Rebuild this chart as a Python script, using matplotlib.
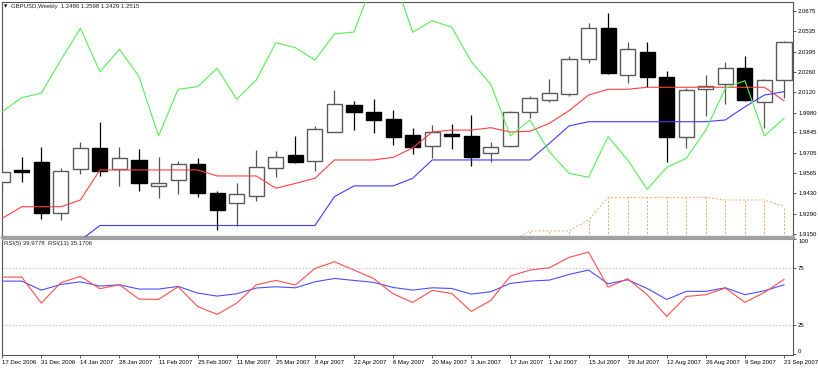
import matplotlib
matplotlib.use("Agg")
import matplotlib.pyplot as plt

# ---------------- data ----------------
tick_labels = ["17 Dec 2006", "31 Dec 2006", "14 Jan 2007", "28 Jan 2007", "11 Feb 2007",
               "25 Feb 2007", "11 Mar 2007", "25 Mar 2007", "8 Apr 2007", "22 Apr 2007",
               "6 May 2007", "20 May 2007", "3 Jun 2007", "17 Jun 2007", "1 Jul 2007",
               "15 Jul 2007", "29 Jul 2007", "12 Aug 2007", "26 Aug 2007", "9 Sep 2007",
               "23 Sep 2007"]

opens = [1.9509, 1.9589, 1.9641, 1.9293, 1.9593, 1.9737, 1.9593, 1.9655, 1.9480, 1.9518,
         1.9630, 1.9434, 1.9362, 1.9413, 1.9600, 1.9689, 1.9650, 1.9850, 2.0031, 1.9981,
         1.9935, 1.9827, 1.9754, 1.9834, 1.9821, 1.9703, 1.9754, 1.9982, 2.0066, 2.0107,
         2.0344, 2.0555, 2.0237, 2.0395, 2.0225, 1.9812, 2.0141, 2.0175, 2.0282, 2.0054,
         2.0202]
highs = [1.9748, 1.9679, 1.9748, 1.9604, 1.9778, 1.9914, 1.9748, 1.9730, 1.9679, 1.9650,
         1.9673, 1.9445, 1.9502, 1.9725, 1.9718, 1.9823, 1.9887, 2.0134, 2.0061, 2.0073,
         1.9998, 1.9873, 1.9896, 1.9899, 1.9964, 1.9782, 1.9993, 2.0091, 2.0209, 2.0366,
         2.0593, 2.0657, 2.0464, 2.0464, 2.0264, 2.0146, 2.0237, 2.0327, 2.0368, 2.0207,
         2.0468]
lows = [1.9430, 1.9510, 1.9254, 1.9248, 1.9561, 1.9550, 1.9480, 1.9447, 1.9396, 1.9423,
        1.9407, 1.9179, 1.9207, 1.9377, 1.9543, 1.9634, 1.9585, 1.9846, 1.9861, 1.9841,
        1.9759, 1.9696, 1.9670, 1.9730, 1.9616, 1.9645, 1.9748, 1.9943, 2.0054, 2.0093,
        2.0320, 2.0245, 2.0180, 2.0153, 1.9645, 1.9741, 1.9957, 2.0039, 2.0059, 1.9877,
        2.0082]
closes = [1.9577, 1.9575, 1.9293, 1.9584, 1.9737, 1.9584, 1.9668, 1.9498, 1.9498, 1.9630,
          1.9430, 1.9316, 1.9423, 1.9611, 1.9675, 1.9641, 1.9866, 2.0037, 1.9982, 1.9930,
          1.9816, 1.9745, 1.9846, 1.9821, 1.9679, 1.9748, 1.9984, 2.0083, 2.0112, 2.0346,
          2.0555, 2.0248, 2.0412, 2.0225, 1.9816, 2.0134, 2.0162, 2.0282, 2.0066, 2.0202,
          2.0460]

tenkan = [1.9259, 1.9338, 1.9338, 1.9338, 1.9384, 1.9589, 1.9589, 1.9589, 1.9589, 1.9589,
          1.9589, 1.9548, 1.9548, 1.9548, 1.9464, 1.9497, 1.9532, 1.9657, 1.9657, 1.9657,
          1.9675, 1.9739, 1.9848, 1.9861, 1.9861, 1.9877, 1.9848, 1.9853, 1.9907, 1.9993,
          2.0100, 2.0139, 2.0139, 2.0153, 2.0153, 2.0153, 2.0153, 2.0153, 2.0153, 2.0153,
          2.0061]
kijun = [1.9109, 1.9109, 1.9109, 1.9109, 1.9109, 1.9210, 1.9210, 1.9210, 1.9210, 1.9210,
         1.9210, 1.9210, 1.9210, 1.9210, 1.9210, 1.9210, 1.9210, 1.9407, 1.9480, 1.9480,
         1.9480, 1.9532, 1.9657, 1.9657, 1.9657, 1.9657, 1.9657, 1.9657, 1.9771, 1.9889,
         1.9918, 1.9918, 1.9918, 1.9918, 1.9918, 1.9918, 1.9918, 1.9930, 2.0020, 2.0100,
         2.0123]
chikou = [1.9986, 2.0082, 2.0112, 2.0339, 2.0555, 2.0259, 2.0412, 2.0225, 1.9821, 2.0139,
          2.0157, 2.0282, 2.0071, 2.0202, 2.0457, 2.0423, 2.0339, 2.0516, 2.0530, 2.0884,
          2.0925, 2.0528, 2.0607, 2.0562, 2.0327, 2.0173, 1.9821, 1.9930, 1.9713, 1.9566,
          1.9539, 1.9816, 1.9657, 1.9457, 1.9607, 1.9668, 1.9861, 2.0146, 2.0198, 1.9821,
          1.9941]
cloud_start = 26
senkou_a = [1.9098, 1.9173, 1.9173, 1.9173, 1.9248, 1.9402, 1.9402, 1.9402, 1.9402, 1.9402,
            1.9402, 1.9384, 1.9384, 1.9384, 1.9340]
senkou_b = [1.9050, 1.9050, 1.9050, 1.9050, 1.9050, 1.9050, 1.9050, 1.9050, 1.9050, 1.9050,
            1.9050, 1.9050, 1.9050, 1.9050, 1.9050]

rsi5 = [66.9, 66.9, 44.3, 62.0, 67.5, 56.8, 60.2, 47.8, 47.5, 58.5, 41.4, 34.5, 44.3, 60.2,
        64.0, 60.0, 74.4, 80.2, 73.0, 65.7, 52.4, 44.9, 55.3, 52.7, 37.1, 46.6, 67.8, 73.0,
        75.0, 84.0, 88.6, 58.2, 65.5, 51.6, 32.8, 50.1, 51.6, 57.4, 44.9, 53.6, 64.9]
rsi13 = [63.4, 63.4, 55.6, 60.5, 62.8, 59.1, 60.2, 56.5, 56.5, 58.8, 53.0, 50.4, 52.4, 57.4,
         58.5, 57.6, 62.8, 65.7, 64.0, 62.3, 57.9, 55.6, 57.6, 57.0, 52.1, 54.2, 61.4, 63.4,
         64.3, 69.2, 73.0, 61.1, 64.6, 57.0, 47.5, 54.5, 54.5, 57.6, 51.6, 55.0, 60.2]

price_ticks = [2.0675, 2.0535, 2.0395, 2.0260, 2.0120, 1.9980, 1.9845, 1.9705,
               1.9565, 1.9430, 1.9290, 1.9150]
price_tick_labels = ["2.0675", "2.0535", "2.0395", "2.0260", "2.0120", "1.9980", "1.9845",
                     "1.9705", "1.9565", "1.9430", "1.9290", "1.9150"]

# ---------------- figure ----------------
FONT = "Liberation Sans"
FS = 4.3
W, H = 818, 368
fig = plt.figure(figsize=(W / 100, H / 100), dpi=100)
fig.patch.set_facecolor("white")

def fx(px):
    return px / W

def fy(py):
    return 1 - py / H

ax = fig.add_axes([fx(2), fy(236.5), fx(791), (236.5 - 1.5) / H])
ax2 = fig.add_axes([fx(2), fy(355), fx(791), (355 - 239) / H], sharex=ax)

n = len(closes)
xs = list(range(n))
ax.set_xlim(-0.01, 40.46)
ax.set_ylim(1.9135, 2.0738)

# candles
for i in xs:
    o, h, l, c = opens[i], highs[i], lows[i], closes[i]
    bull = c >= o
    wick_col = "#555555" if bull else "#000000"
    ax.vlines(i, l, h, color=wick_col, lw=0.9, zorder=2)
    ax.bar(i, abs(c - o) if abs(c - o) > 0.0002 else 0.0002, bottom=min(o, c), width=0.77,
           facecolor="white" if bull else "black",
           edgecolor="#5a5a5a" if bull else "black", linewidth=1.0, zorder=3)

# cloud
cx = list(range(cloud_start, cloud_start + len(senkou_a)))
ax.plot(cx, senkou_a, color="#f4a460", lw=0.7, ls=(0, (2, 2)), zorder=1)
ax.plot(cx, senkou_b, color="#f4a460", lw=0.7, ls=(0, (2, 2)), zorder=1)
ax.vlines(cx, senkou_b, senkou_a, color="#f4a460", lw=0.7, linestyles=(0, (2, 2)), zorder=1)

# ichimoku lines
ax.plot(xs, tenkan, color="#ff4040", lw=0.8, zorder=4)
ax.plot(xs, kijun, color="#3c3cff", lw=0.8, zorder=4)
ax.plot(xs, chikou, color="#55ee55", lw=0.8, zorder=4)

# main axes styling
ax.yaxis.tick_right()
ax.set_yticks(price_ticks)
ax.set_yticklabels(price_tick_labels, fontfamily=FONT, fontsize=FS)
ax.tick_params(axis="y", length=2.5, width=0.6, color="#444444", pad=1.2)
ax.tick_params(axis="x", bottom=False, labelbottom=False)
for s in ("top", "left", "right"):
    ax.spines[s].set_color("#555555")
    ax.spines[s].set_linewidth(0.8)
ax.spines["bottom"].set_color("#a0a0a0")
ax.spines["bottom"].set_linewidth(2.4)

# RSI
ax2.set_ylim(-0.8, 100)
ax2.axhline(75, color="#c8c8c8", lw=0.8, ls=(0, (1.5, 1.5)), zorder=1)
ax2.axhline(25, color="#c8c8c8", lw=0.8, ls=(0, (1.5, 1.5)), zorder=1)
ax2.plot(xs, rsi13, color="#4d4dff", lw=0.8, zorder=3)
ax2.plot(xs, rsi5, color="#ff4d4d", lw=0.8, zorder=3)
ax2.yaxis.tick_right()
ax2.set_yticks([0, 25, 75, 100])
ax2.set_yticklabels(["0", "25", "75", "100"], fontfamily=FONT, fontsize=FS)
ax2.tick_params(axis="y", length=2.5, width=0.6, color="#444444", pad=1.2)
ylabs = ax2.get_yticklabels()
ylabs[0].set_verticalalignment("bottom")
ylabs[3].set_verticalalignment("top")
ax2.set_xticks(xs[::2])
ax2.set_xticklabels(tick_labels, fontfamily=FONT, fontsize=FS, ha="left")
ax2.tick_params(axis="x", length=2.5, width=0.6, color="#444444", pad=1.0)
for s in ("left", "right", "bottom"):
    ax2.spines[s].set_color("#555555")
    ax2.spines[s].set_linewidth(0.8)
ax2.spines["top"].set_color("#a0a0a0")
ax2.spines["top"].set_linewidth(0.8)

# headers
fig.text(fx(3.5), fy(6.5), "\u25BC", fontsize=3.2, color="black", va="center",
         fontfamily="DejaVu Sans")
fig.text(fx(11), fy(6.5), "GBPUSD,Weekly  1.2486 1.2598 1.2429 1.2515",
         fontsize=FS, fontfamily=FONT, va="center", color="#222222")
fig.text(fx(3.5), fy(243.5), "RSI(5) 39.9778  RSI(13) 35.1706",
         fontsize=FS, fontfamily=FONT, va="center", color="#222222")

fig.savefig("out.png", dpi=100, facecolor="white")
